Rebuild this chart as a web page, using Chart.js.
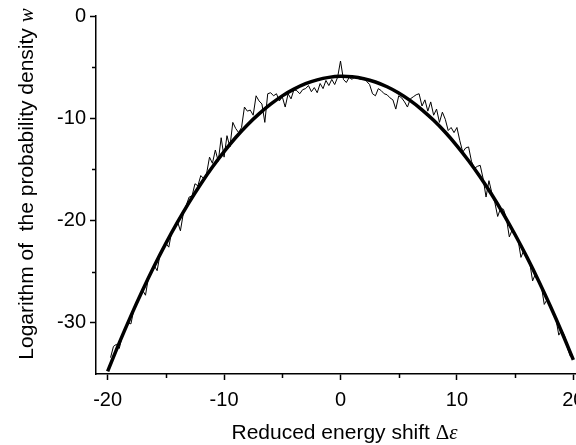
<!DOCTYPE html>
<html>
<head>
<meta charset="utf-8">
<script src="https://cdn.jsdelivr.net/npm/chart.js@4.4.1/dist/chart.umd.min.js"></script>
<style>
  html, body { margin: 0; padding: 0; background: #fff; overflow: hidden; }
  #wrap { position: relative; width: 600px; height: 445px; }
</style>
</head>
<body>
<div id="wrap"><canvas id="chart"></canvas></div>
<script>
const fitX = [-20, -19, -18, -17, -16, -15, -14, -13, -12, -11, -10, -9, -8, -7, -6, -5, -4, -3, -2, -1,
  0, 1, 2, 3, 4, 5, 6, 7, 8, 9, 10, 11, 12, 13, 14, 15, 16, 17, 18, 19, 20];
const fitY = [-34.75, -31.96, -29.32, -26.82, -24.45, -22.23, -20.16, -18.22, -16.42, -14.77,
  -13.26, -11.88, -10.65, -9.57, -8.62, -7.81, -7.15, -6.62, -6.24, -6.0,
  -5.9, -5.95, -6.13, -6.45, -6.92, -7.53, -8.28, -9.17, -10.2, -11.37,
  -12.69, -14.15, -15.74, -17.48, -19.36, -21.39, -23.55, -25.85, -28.3, -30.89, -33.62];

// measured trace, every 0.25 unit from -19.75 to 19.75
const measStart = -19.75;
const measStep = 0.25;
const measY = [
  -33.4, -32.3, -32.1, -32.5, -31.3, -30.5, -30.0, -30.1,   // -19.75 .. -18
  -28.7, -28.0, -27.4, -26.8, -27.3, -25.6, -25.0, -24.4,   // -17.75 .. -16
  -24.9, -23.3, -22.7, -22.2, -22.6, -21.1, -20.6, -20.1,   // -15.75 .. -14
  -21.0, -19.3, -18.5, -17.7, -17.6, -16.4, -16.6, -15.6,   // -13.75 .. -12
  -15.9, -15.4, -13.8, -14.4, -13.1, -14.2, -11.9, -13.8,   // -11.75 .. -10
  -11.7, -12.8, -10.4, -11.0, -11.4, -10.9, -8.9, -9.3,     // -9.75 .. -8
  -9.2, -9.7, -7.8, -8.3, -8.6, -10.4, -7.6, -7.5,          // -7.75 .. -6
  -7.8, -7.6, -8.3, -7.9, -8.9, -7.6, -8.1, -7.2,           // -5.75 .. -4
  -7.3, -7.6, -7.2, -7.1, -6.8, -7.4, -7.0, -7.5,           // -3.75 .. -2
  -6.6, -7.1, -6.3, -6.8, -6.2, -6.7, -6.0, -4.4,           // -1.75 .. 0
  -6.2, -6.5, -6.0, -6.2, -5.9, -6.1, -6.2, -6.0,           // 0.25 .. 2
  -6.4, -6.7, -7.6, -7.8, -7.1, -7.3, -7.6, -7.7,           // 2.25 .. 4
  -8.0, -8.2, -9.1, -7.8, -8.0, -8.4, -8.9, -8.1,           // 4.25 .. 6
  -7.9, -7.7, -7.6, -8.8, -8.2, -9.3, -8.4, -9.7,           // 6.25 .. 8
  -9.1, -10.4, -9.4, -10.1, -11.2, -10.9, -11.4, -10.9,     // 8.25 .. 10
  -12.2, -13.3, -12.9, -12.8, -14.2, -14.9, -14.7, -14.6,   // 10.25 .. 12
  -15.9, -17.7, -16.1, -17.3, -18.2, -19.6, -18.8, -18.9,   // 12.25 .. 14
  -19.8, -21.6, -20.9, -21.3, -21.9, -23.6, -22.9, -23.5,   // 14.25 .. 16
  -24.1, -25.9, -25.2, -25.8, -26.4, -28.2, -27.7, -28.3,   // 16.25 .. 18
  -28.9, -29.6, -31.2, -30.7, -31.3, -32.5, -33.3           // 18.25 .. 19.75
];

const xMajorTicks = [-20, -10, 0, 10, 20];
const xMinorTicks = [-15, -5, 5, 15];
const yMajorTicks = [-30, -20, -10, 0];
const yMinorTicks = [-25, -15, -5];

const sans = '"Liberation Sans", Arial, sans-serif';
const serif = '"Liberation Serif", "Times New Roman", serif';
const xTitleParts = [
  { text: 'Reduced energy shift ', font: '21px ' + sans },
  { text: '\u0394', font: '21px ' + serif },
  { text: '\u03b5', font: 'italic 21px ' + serif }
];
const yTitleParts = [
  { text: 'Logarithm of  the probability density ', font: '21px ' + sans },
  { text: 'w', font: 'italic 21px ' + serif }
];

const fitPoints = fitX.map((x, i) => ({ x, y: fitY[i] }));
const measPoints = measY.map((y, i) => ({ x: measStart + i * measStep, y }));

function drawParts(ctx, parts, cx, baseline) {
  let total = 0;
  parts.forEach(p => { ctx.font = p.font; total += ctx.measureText(p.text).width; });
  let x = cx - total / 2;
  parts.forEach(p => {
    ctx.font = p.font;
    ctx.fillText(p.text, x, baseline);
    x += ctx.measureText(p.text).width;
  });
}

const axisDecor = {
  id: 'axisDecor',
  afterDraw(chart) {
    const { ctx, chartArea, scales } = chart;
    ctx.save();
    ctx.strokeStyle = '#000';
    ctx.lineWidth = 1.5;
    ctx.beginPath();
    xMinorTicks.forEach(v => {
      const px = Math.round(scales.x.getPixelForValue(v)) + 0.5;
      ctx.moveTo(px, chartArea.bottom);
      ctx.lineTo(px, chartArea.bottom + 4);
    });
    yMinorTicks.forEach(v => {
      const py = Math.round(scales.y.getPixelForValue(v)) + 0.5;
      ctx.moveTo(chartArea.left, py);
      ctx.lineTo(chartArea.left - 4, py);
    });
    ctx.stroke();

    ctx.fillStyle = '#000';
    ctx.textAlign = 'left';
    ctx.textBaseline = 'alphabetic';
    drawParts(ctx, xTitleParts, (chartArea.left + chartArea.right) / 2 + 4, chartArea.bottom + 65);

    ctx.translate(33, (chartArea.top + chartArea.bottom) / 2 - 11);
    ctx.rotate(-Math.PI / 2);
    drawParts(ctx, yTitleParts, 0, 0);
    ctx.restore();
  }
};

const tickFont = { family: sans, size: 20 };

new Chart(document.getElementById('chart'), {
  type: 'line',
  data: {
    datasets: [
      {
        label: 'fit',
        data: fitPoints,
        borderColor: '#000',
        borderWidth: 3.5,
        pointRadius: 0,
        tension: 0.4,
        fill: false
      },
      {
        label: 'measured',
        data: measPoints,
        borderColor: '#000',
        borderWidth: 1,
        pointRadius: 0,
        tension: 0,
        fill: false
      }
    ]
  },
  options: {
    responsive: true,
    maintainAspectRatio: false,
    devicePixelRatio: 1,
    animation: false,
    layout: { padding: { top: 15, right: 15, left: 0, bottom: 0 } },
    plugins: {
      legend: { display: false },
      tooltip: { enabled: false }
    },
    scales: {
      x: {
        type: 'linear',
        min: -21,
        max: 21,
        afterBuildTicks: (scale) => { scale.ticks = xMajorTicks.map(v => ({ value: v })); },
        afterFit: (scale) => { scale.height = 71; },
        border: { display: true, color: '#000', width: 1.5 },
        grid: { drawOnChartArea: false, drawTicks: true, tickLength: 6, tickColor: '#000', tickWidth: 1.5 },
        ticks: { color: '#000', font: tickFont, padding: 8, maxRotation: 0 }
      },
      y: {
        type: 'linear',
        min: -35,
        max: 0,
        afterBuildTicks: (scale) => { scale.ticks = yMajorTicks.map(v => ({ value: v })); },
        afterFit: (scale) => { scale.width = 96; },
        border: { display: true, color: '#000', width: 1.5 },
        grid: { drawOnChartArea: false, drawTicks: true, tickLength: 6, tickColor: '#000', tickWidth: 1.5 },
        ticks: { color: '#000', font: tickFont, padding: 4 }
      }
    }
  },
  plugins: [axisDecor]
});
</script>
</body>
</html>
